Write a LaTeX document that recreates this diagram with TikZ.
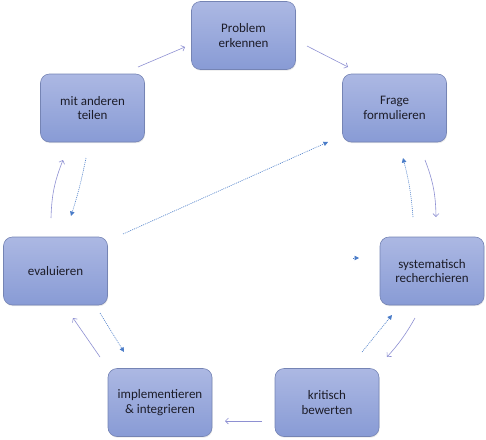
\documentclass[tikz,border=0pt]{standalone}
\usepackage{fontspec}
\setmainfont{Carlito}
\usetikzlibrary{arrows.meta,shadows}
\definecolor{boxtop}{HTML}{ACB8E3}
\definecolor{boxbot}{HTML}{889BD5}
\definecolor{boxline}{HTML}{7584B4}
\definecolor{txt}{HTML}{1C1C28}
\definecolor{solidc}{HTML}{8E90D2}
\definecolor{dotc}{HTML}{4A7CC8}
\tikzset{
  stepbox/.style={rectangle, rounded corners=9pt, draw=boxline, line width=0.6pt,
    top color=boxtop, bottom color=boxbot, minimum width=104pt, minimum height=68pt,
    align=center, text=txt, font=\fontsize{13}{14.5}\selectfont,
    drop shadow={opacity=0.18, shadow xshift=0.6pt, shadow yshift=-1.2pt}},
  solidarr/.style={draw=solidc, line width=0.6pt, -{Straight Barb[length=3pt,width=6pt]}},
  dotarr/.style={draw=dotc, line width=0.6pt, dash pattern=on 1pt off 1pt,
    -{Triangle[length=4.5pt,width=4.5pt]}},
}
\begin{document}
\begin{tikzpicture}[x=1pt,y=-1pt]
\useasboundingbox (0,0) rectangle (486,439);
\node[stepbox] (prob) at (243.5,35.5) {Problem\\erkennen};
\node[stepbox] (frage) at (394.5,108) {Frage\\formulieren};
\node[stepbox] (mit) at (92.5,108) {mit anderen\\teilen};
\node[stepbox] (eval) at (55.5,271) {evaluieren};
\node[stepbox] (syst) at (432,271) {systematisch\\recherchieren};
\node[stepbox] (impl) at (160,402.5) {implementieren\\\& integrieren};
\node[stepbox] (krit) at (327,402.5) {kritisch\\bewerten};
% endpoints
\coordinate (a1) at (307,46);  \coordinate (b1) at (348,67);
\coordinate (a2) at (138,67);  \coordinate (b2) at (185,47);
\coordinate (a3) at (413,217); \coordinate (b3) at (403,158);
\coordinate (a4) at (425,160); \coordinate (b4) at (436,217);
\coordinate (a5) at (362,352); \coordinate (b5) at (392,315);
\coordinate (a6) at (415,318); \coordinate (b6) at (387,357);
\coordinate (a7) at (262,421); \coordinate (b7) at (225,421);
\coordinate (a8) at (100,313); \coordinate (b8) at (124,352);
\coordinate (a9) at (100,357); \coordinate (b9) at (73,318);
\coordinate (a10) at (51,218); \coordinate (b10) at (63,160);
\coordinate (a11) at (86,158); \coordinate (b11) at (71,216);
\coordinate (a12) at (123,234); \coordinate (b12) at (328,142);
\coordinate (a13) at (353,258); \coordinate (b13) at (359,258);
\draw[solidarr] (a1) -- (b1);
\draw[solidarr] (a2) -- (b2);
\draw[dotarr] (a3) to[bend right=5] (b3);
\draw[solidarr] (a4) to[bend left=10] (b4);
\draw[dotarr] (a5) -- (b5);
\draw[solidarr] (a6) to[bend left=6] (b6);
\draw[solidarr] (a7) -- (b7);
\draw[dotarr] (a8) -- (b8);
\draw[solidarr] (a9) -- (b9);
\draw[solidarr] (a10) to[bend left=10] (b10);
\draw[dotarr] (a11) to[bend left=3] (b11);
\draw[dotarr] (a12) -- (b12);
\draw[dotarr] (a13) -- (b13);
\end{tikzpicture}
\end{document}
